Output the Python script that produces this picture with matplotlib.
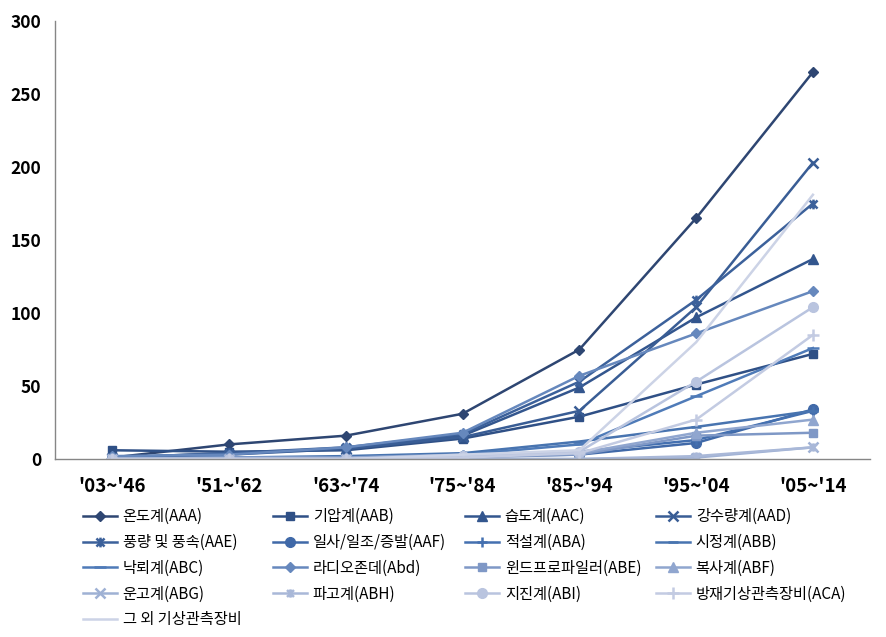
import matplotlib
matplotlib.use("Agg")
import matplotlib.pyplot as plt
from matplotlib.path import Path
import numpy as np

plt.rcParams['font.family'] = ['Noto Sans CJK KR', 'DejaVu Sans']

periods = ["'03~'46", "'51~'62", "'63~'74", "'75~'84", "'85~'94", "'95~'04", "'05~'14"]

names = ["온도계(AAA)", "기압계(AAB)", "습도계(AAC)", "강수량계(AAD)",
         "풍량 및 풍속(AAE)", "일사/일조/증발(AAF)", "적설계(ABA)", "시정계(ABB)",
         "낙뢰계(ABC)", "라디오존데(Abd)", "윈드프로파일러(ABE)", "복사계(ABF)",
         "운고계(ABG)", "파고계(ABH)", "지진계(ABI)", "방재기상관측장비(ACA)",
         "그 외 기상관측장비"]

aaa = [1, 10, 16, 31, 75, 165, 265]
aab = [6, 5, 6, 14, 29, 51, 72]
aac = [1, 4, 7, 16, 49, 97, 137]
aad = [1, 3, 7, 15, 33, 104, 203]
aae = [1, 4, 8, 17, 53, 109, 175]
aaf = [1, 1, 1, 2, 3, 11, 34]
aba = [0, 1, 1, 3, 5, 13, 33]
abb = [0, 1, 2, 4, 12, 22, 33]
abc = [0, 1, 1, 3, 10, 43, 76]
abd = [2, 3, 8, 18, 57, 86, 115]
abe = [0, 0, 0, 1, 3, 16, 18]
abf = [0, 1, 1, 3, 4, 18, 27]
abg = [0, 0, 0, 0, 0, 1, 8]
abh = [0, 0, 0, 0, 0, 2, 8]
abi = [0, 0, 0, 2, 5, 53, 104]
aca = [0, 0, 0, 1, 4, 27, 85]
etc = [0, 0, 0, 3, 6, 80, 181]

series = [aaa, aab, aac, aad, aae, aaf, aba, abb, abc, abd, abe, abf, abg, abh, abi, aca, etc]

# excel-like star: x with a vertical bar
star = Path([(-1, -1), (1, 1), (-1, 1), (1, -1), (0, -1.2), (0, 1.2)],
            [Path.MOVETO, Path.LINETO, Path.MOVETO, Path.LINETO, Path.MOVETO, Path.LINETO])

markers = ['D', 's', '^', 'x', star, 'o', '+', '_', '_', 'D', 's', '^', 'x', star, 'o', '+', None]
msizes = [5.5, 6, 6.5, 7, 7, 7, 7, 7, 9, 5.5, 6, 6.5, 7, 6, 7, 8, 0]
colors = ['#2e4672', '#2f5086', '#33568e', '#395d95', '#3c619b', '#4069a8', '#4470b0', '#4874b0',
          '#4f7bb8', '#6688bd', '#7f98c6', '#90a6cf', '#9fb1d4', '#a9b8d8', '#b9c4df', '#c3cbe2',
          '#ccd3e6']

fig = plt.figure(figsize=(8.87, 6.37), dpi=100)
ax = fig.add_axes([0.062, 0.2794, 0.919, 0.6876])

x = np.arange(len(periods))
for vals, name, m, ms, c in zip(series, names, markers, msizes, colors):
    ax.plot(x, vals, color=c, lw=1.8, marker=m, ms=ms, mec=c, mfc=c,
            mew=1.8 if m in ('x', '+', '_') or m is star else 1, label=name)

ax.set_xlim(-0.49, 6.49)
ax.set_ylim(0, 300)
ax.set_yticks(range(0, 301, 50))
ax.set_xticks(x)
ax.set_xticklabels(periods)
ax.tick_params(axis='y', length=0, pad=10, labelsize=12.5)
ax.tick_params(axis='x', length=0, pad=13, labelsize=13.5)
for lab in ax.get_xticklabels() + ax.get_yticklabels():
    lab.set_fontweight('bold')
for s in ('top', 'right'):
    ax.spines[s].set_visible(False)
for s in ('left', 'bottom'):
    ax.spines[s].set_color('#868686')
    ax.spines[s].set_linewidth(1)

handles, labels = ax.get_legend_handles_labels()
col_x = [83, 273, 465, 656]
cols = [[0, 4, 8, 12, 16], [1, 5, 9, 13], [2, 6, 10, 14], [3, 7, 11, 15]]
for cx, idx in zip(col_x, cols):
    fig.legend([handles[i] for i in idx], [labels[i] for i in idx],
               loc='upper left', bbox_to_anchor=(cx / 887, 1 - 508 / 637),
               frameon=False, fontsize=11, handlelength=2.2, handletextpad=0.4,
               labelspacing=0.58, borderpad=0, borderaxespad=0)

fig.savefig("out.png", dpi=100)
